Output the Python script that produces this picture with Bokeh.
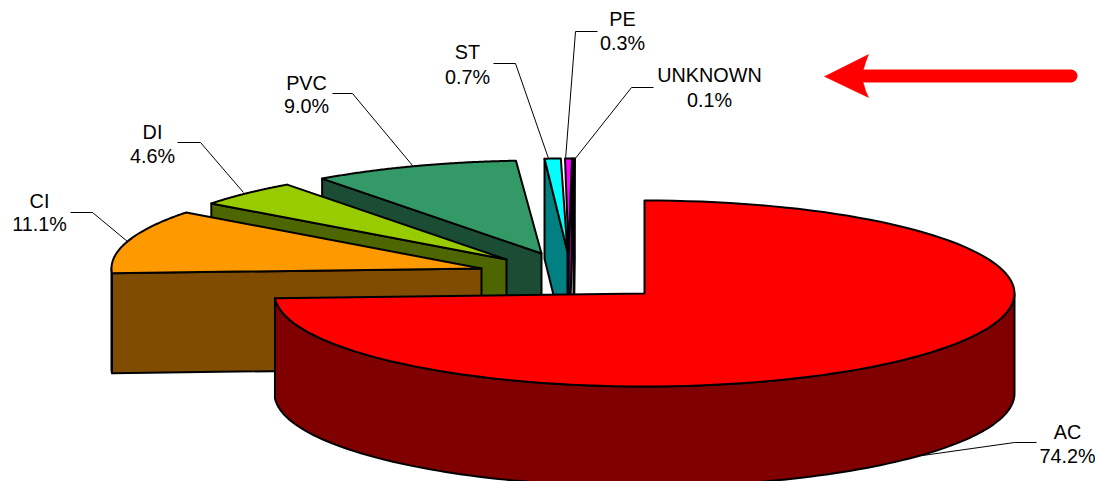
import math
from bokeh.plotting import figure
from bokeh.models import Range1d
from bokeh.core.properties import value
from bokeh.embed import file_html
from bokeh.resources import INLINE

# ---- data
materials = ["AC", "CI", "DI", "PVC", "ST", "PE", "UNKNOWN"]
shares = [74.2, 11.1, 4.6, 9.0, 0.7, 0.3, 0.1]
top_colors = ["#FF0000", "#FF9900", "#99CC00", "#339966", "#00FFFF", "#FF00FF", "#000000"]
side_colors = ["#800000", "#804D00", "#4D6600", "#1A4D33", "#008080", "#800080", "#000000"]

# ---- layout of the exploded 3-D pie (page pixels)
rx, ry, depth = 370, 93, 100
apex_x = [645, 482, 507, 542, 568, 569, 574]
apex_y = [294, 269, 260, 254, 252, 252, 252]
nudge = [0, 0, 0, 0, 0.4, 0.9, 0.2]
face = [None, "start", "start", "start", "start", "end", "end"]
label_x = [1068, 40, 153, 307, 468, 623, 710]
name_y = [432, 201, 132, 83, 52, 19, 75]
pct_y = [456, 224, 156, 106, 77, 43, 100]
leader_x = [[1037, 1015, 923], [71, 93, 128], [178, 201, 244], [333, 353, 413],
            [494, 516, 549], [598, 576, 566], [654, 632, 575]]
leader_y = [[443, 443, 456], [213, 213, 242], [143, 143, 193], [94, 94, 166],
            [64, 64, 159], [32, 32, 160], [88, 88, 160]]
arrow_shaft_x = [1071.5, 866]
arrow_shaft_y = [76.5, 76.5]
arrow_head_x = [825, 869, 866, 864, 863, 864, 866, 869]
arrow_head_y = [77, 55, 63, 70, 77, 84, 91, 98]

p = figure(width=1095, height=481, x_range=Range1d(1, 1096), y_range=Range1d(482, 1),
           output_backend="svg", toolbar_location=None, min_border=0,
           outline_line_color=None, background_fill_color="white")
p.axis.visible = False
p.grid.visible = False


def rim(cx, cy, a0, a1, dy=0.0, n=120):
    xs, ys = [], []
    for i in range(n + 1):
        a = math.radians(a0 + (a1 - a0) * i / n)
        xs.append(cx + rx * math.sin(a))
        ys.append(cy - ry * math.cos(a) + dy)
    return xs, ys


# start angle of each slice, clockwise from 12 o'clock
starts = []
acc = 0.0
for s in shares:
    starts.append(acc)
    acc += s * 3.6

LW = 2
for i in reversed(range(len(materials))):
    cx, cy = apex_x[i], apex_y[i]
    a0 = starts[i] + nudge[i]
    a1 = a0 + shares[i] * 3.6
    # straight cut face
    if face[i]:
        a = a0 if face[i] == "start" else a1
        ex = cx + rx * math.sin(math.radians(a))
        ey = cy - ry * math.cos(math.radians(a))
        p.patch([ex, cx, cx, ex], [ey, cy, cy + depth, ey + depth],
                fill_color=side_colors[i], line_color="black", line_width=LW, line_join="round")
    # curved outer wall, only where it faces the viewer
    w0, w1 = max(a0, 90), min(a1, 270)
    if w1 > w0:
        xs, ys = rim(cx, cy, w0, w1)
        xb, yb = rim(cx, cy, w0, w1, dy=depth)
        p.patch(xs + xb[::-1], ys + yb[::-1], fill_color=side_colors[i],
                line_color="black", line_width=LW, line_join="round")
    # top surface
    xs, ys = rim(cx, cy, a0, a1)
    p.patch([cx] + xs, [cy] + ys, fill_color=top_colors[i], line_color="black",
            line_width=LW, line_join="round")

# leader lines and labels
for i, m in enumerate(materials):
    p.line(leader_x[i], leader_y[i], line_color="black", line_width=1)
    p.text([label_x[i]], [name_y[i]], text=[m], text_align="center", text_baseline="middle",
           text_font=value("Liberation Sans"), text_font_size="19.8px", text_color="black")
    p.text([label_x[i]], [pct_y[i]], text=[f"{shares[i]:.1f}%"], text_align="center",
           text_baseline="middle", text_font=value("Liberation Sans"),
           text_font_size="19.8px", text_color="black")

# red arrow
p.line(arrow_shaft_x, arrow_shaft_y, line_color="#FF0000", line_width=13, line_cap="round")
p.patch(arrow_head_x, arrow_head_y, fill_color="#FF0000", line_color="#FF0000", line_width=0.5)

open("out.html", "w").write(file_html(p, INLINE))
